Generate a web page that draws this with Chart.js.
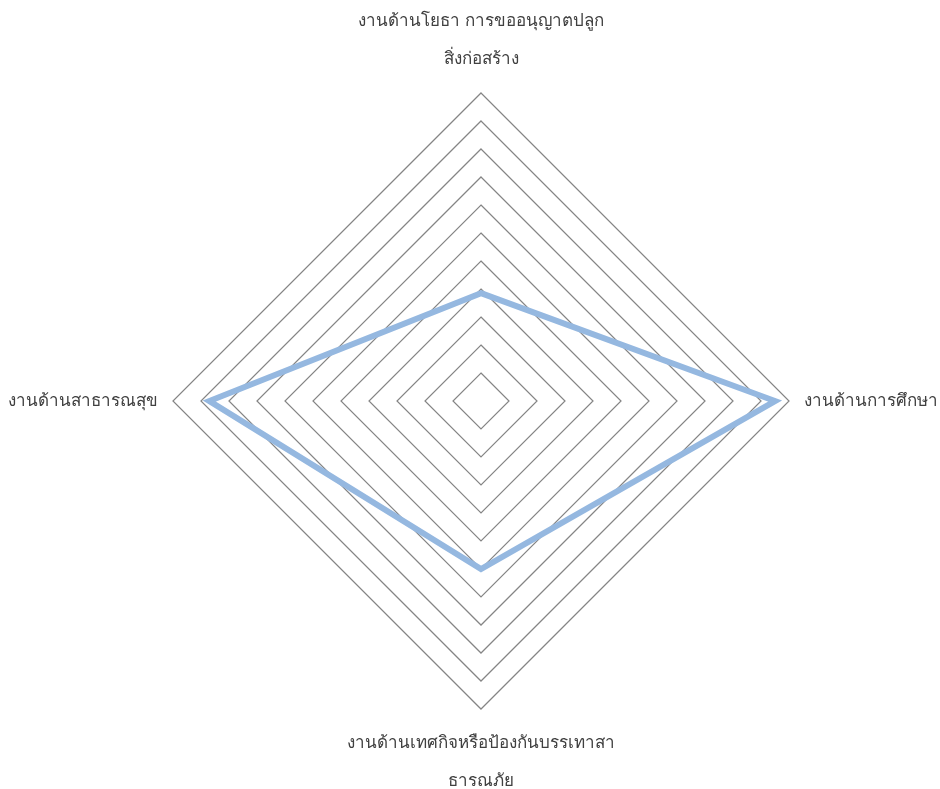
<!DOCTYPE html>
<html lang="th">
<head>
<meta charset="UTF-8">
<title>Radar</title>
<style>
    html, body { margin: 0; background: #fff; overflow: hidden; }
    #wrap { width: 940px; height: 789px; overflow: hidden; }
    /* canvas is a bit bigger than the window so the scale lands where the original has it */
    canvas { display: block; margin-left: -7px; }
</style>
</head>
<body>
<div id="wrap"><canvas id="radarChart" width="960" height="800"></canvas></div>
<script src="https://cdn.jsdelivr.net/npm/chart.js"></script>
<script>
    // categories (clockwise from top)
    const categories = [
        ['งานด้านโยธา การขออนุญาตปลูก', 'สิ่งก่อสร้าง'],
        'งานด้านการศึกษา',
        ['งานด้านเทศกิจหรือป้องกันบรรเทาสา', 'ธารณภัย'],
        'งานด้านสาธารณสุข'
    ];
    const values = [3.85, 10.5, 6.0, 9.7];
    const scaleMax = 11;
    const scaleStep = 1;

    const ctx = document.getElementById('radarChart').getContext('2d');
    const radarChart = new Chart(ctx, {
        type: 'radar',
        data: {
            labels: categories,
            datasets: [{
                data: values,
                borderColor: '#95b8e0',
                backgroundColor: 'rgba(0,0,0,0)',
                borderWidth: 6,
                pointRadius: 0,
                fill: false
            }]
        },
        options: {
            responsive: false,
            animation: false,
            layout: { padding: { top: 2, bottom: 0, left: 0, right: 0 } },
            plugins: { legend: { display: false }, tooltip: { enabled: false } },
            scales: {
                r: {
                    min: 0,
                    max: scaleMax,
                    ticks: { display: false, stepSize: scaleStep },
                    angleLines: { display: false },
                    grid: { color: '#858585', lineWidth: 1.2 },
                    pointLabels: {
                        color: '#404040',
                        padding: 14.8,
                        font: { family: 'Tahoma, "Noto Sans", sans-serif', size: 17, lineHeight: 2.24 }
                    }
                }
            }
        }
    });
</script>
</body>
</html>
